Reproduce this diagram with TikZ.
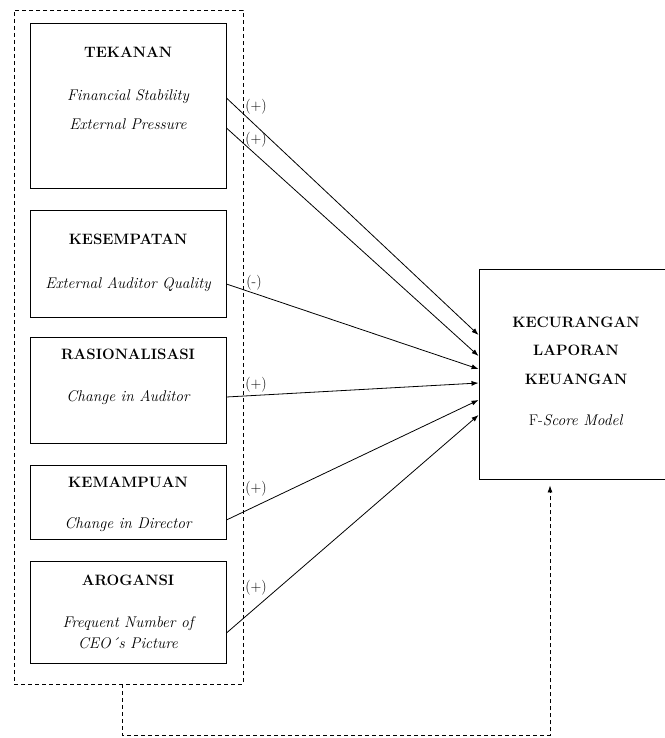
\documentclass[tikz,border=0pt]{standalone}
\usepackage{tikz}
\usetikzlibrary{arrows.meta}

\tikzset{
  kotak/.style={draw, line width=0.9pt, minimum width=196pt, inner sep=0pt},
  judul/.style={anchor=base, font=\bfseries\fontsize{15}{18}\selectfont},
  proksi/.style={anchor=base, font=\itshape\fontsize{15.5}{18}\selectfont},
  tanda/.style={font=\fontsize{15}{17}\selectfont, inner sep=0pt},
  panah/.style={line width=0.8pt, -{Latex[length=7pt,width=5pt]}},
  putus/.style={line width=0.8pt, dash pattern=on 4pt off 3pt}
}

\begin{document}
\begin{tikzpicture}[x=1pt, y=-1pt]
\useasboundingbox (0,0) rectangle (664,738);

\node[putus, draw, minimum width=229pt, minimum height=674pt, inner sep=0pt] (pentagon) at (128.5,347) {};

\node[kotak, minimum height=165pt] (tekanan) at (128,105.5) {};
\node[judul] (tTekanan) at (128,57.5) {TEKANAN};
\node[proksi] (pFinancial) at (128,100.5) {Financial Stability};
\node[proksi] (pExternal) at (128,129.5) {External Pressure};

\node[kotak, minimum height=107pt] (kesempatan) at (128,263.5) {};
\node[judul] (tKesempatan) at (128,244.5) {KESEMPATAN};
\node[proksi] (pAuditor) at (128,288.5) {External Auditor Quality};

\node[kotak, minimum height=106pt] (rasionalisasi) at (128,390) {};
\node[judul] (tRasionalisasi) at (128,359.5) {RASIONALISASI};
\node[proksi] (pChangeAud) at (128,401.5) {Change in Auditor};

\node[kotak, minimum height=74pt] (kemampuan) at (128,502) {};
\node[judul] (tKemampuan) at (128,487.5) {KEMAMPUAN};
\node[proksi] (pChangeDir) at (128,528.5) {Change in Director};

\node[kotak, minimum height=102pt] (arogansi) at (128,612) {};
\node[judul] (tArogansi) at (128,585.5) {AROGANSI};
\node[proksi] (pFrequent) at (128,627.5) {Frequent Number of};
\node[proksi] (pPicture) at (128,648.5) {CEO\'{}s Picture};

\node[kotak, minimum width=194pt, minimum height=210pt] (kecurangan) at (576,374) {};
\node[judul] (tKecurangan) at (576,327.5) {KECURANGAN};
\node[judul] (tLaporan) at (576,355.5) {LAPORAN};
\node[judul] (tKeuangan) at (576,384.5) {KEUANGAN};
\node[anchor=base, font=\fontsize{15.5}{18}\selectfont] (pFscore) at (576,425.5) {F-\textit{Score Model}};

\draw[panah] ([yshift=7.5pt]tekanan.east) -- ([yshift=39pt]kecurangan.west);
\draw[panah] ([yshift=-22.5pt]tekanan.east) -- ([yshift=18pt]kecurangan.west);
\draw[panah] ([yshift=-20.5pt]kesempatan.east) -- ([yshift=5pt]kecurangan.west);
\draw[panah] ([yshift=-7pt]rasionalisasi.east) -- ([yshift=-9pt]kecurangan.west);
\draw[panah] ([yshift=-18pt]kemampuan.east) -- ([yshift=-26pt]kecurangan.west);
\draw[panah] ([yshift=-21pt]arogansi.east) -- ([yshift=-41pt]kecurangan.west);

\node[tanda] (sTekananA) at (256,107) {(+)};
\node[tanda] (sTekananB) at (256,140) {(+)};
\node[tanda] (sKesempatan) at (254,283) {(-)};
\node[tanda] (sRasionalisasi) at (256,385) {(+)};
\node[tanda] (sKemampuan) at (256,489) {(+)};
\node[tanda] (sArogansi) at (256,588) {(+)};

\draw[putus, -{Latex[length=7pt,width=5pt]}] ([xshift=-6.5pt]pentagon.south) -- ++(0,51)
  -| ([xshift=-26pt,yshift=-6pt]kecurangan.south);
\end{tikzpicture}
\end{document}
